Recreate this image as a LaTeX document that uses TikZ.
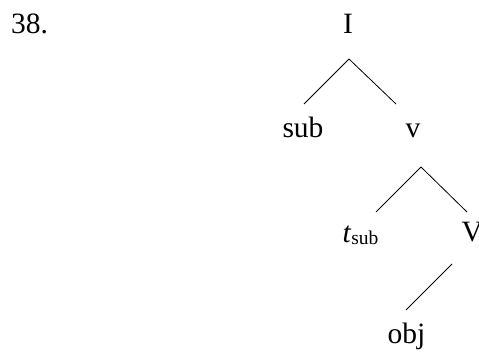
\documentclass[tikz,border=0pt]{standalone}
\usepackage{fontspec}
\setmainfont{Liberation Serif}
\begin{document}
\begin{tikzpicture}[x=1pt,y=-1pt,
  lbl/.style={inner sep=0pt,outer sep=0pt,font=\fontsize{29.5}{30}\selectfont,anchor=base},
  edge/.style={line width=0.8pt}]
\useasboundingbox (0,0) rectangle (479,351);
\node[lbl,anchor=base west] (num) at (11,33) {38.};
\node[lbl] (I) at (348,33) {I};
\node[lbl] (sub) at (303,137) {sub};
\node[lbl] (v) at (413,137) {v};
\node[lbl] (tsub) at (360.5,242) {\textit{t}\raisebox{-2.5pt}{\fontsize{19.5}{20}\selectfont sub}};
\node[lbl,anchor=base west] (V) at (461.5,241) {V};
\node[lbl] (obj) at (406.5,343) {obj};
\draw[edge] ([shift={(1,26)}]I.base) -- ([shift={(1,-33)}]sub.base);
\draw[edge] ([shift={(1,26)}]I.base) -- ([shift={(-17,-33)}]v.base);
\draw[edge] ([shift={(8,30)}]v.base) -- ([shift={(15.5,-30)}]tsub.base);
\draw[edge] ([shift={(8,30)}]v.base) -- ([shift={(5.5,-29)}]V.base west);
\draw[edge] ([shift={(-9.5,23)}]V.base west) -- ([shift={(-0.5,-33)}]obj.base);
\end{tikzpicture}
\end{document}
